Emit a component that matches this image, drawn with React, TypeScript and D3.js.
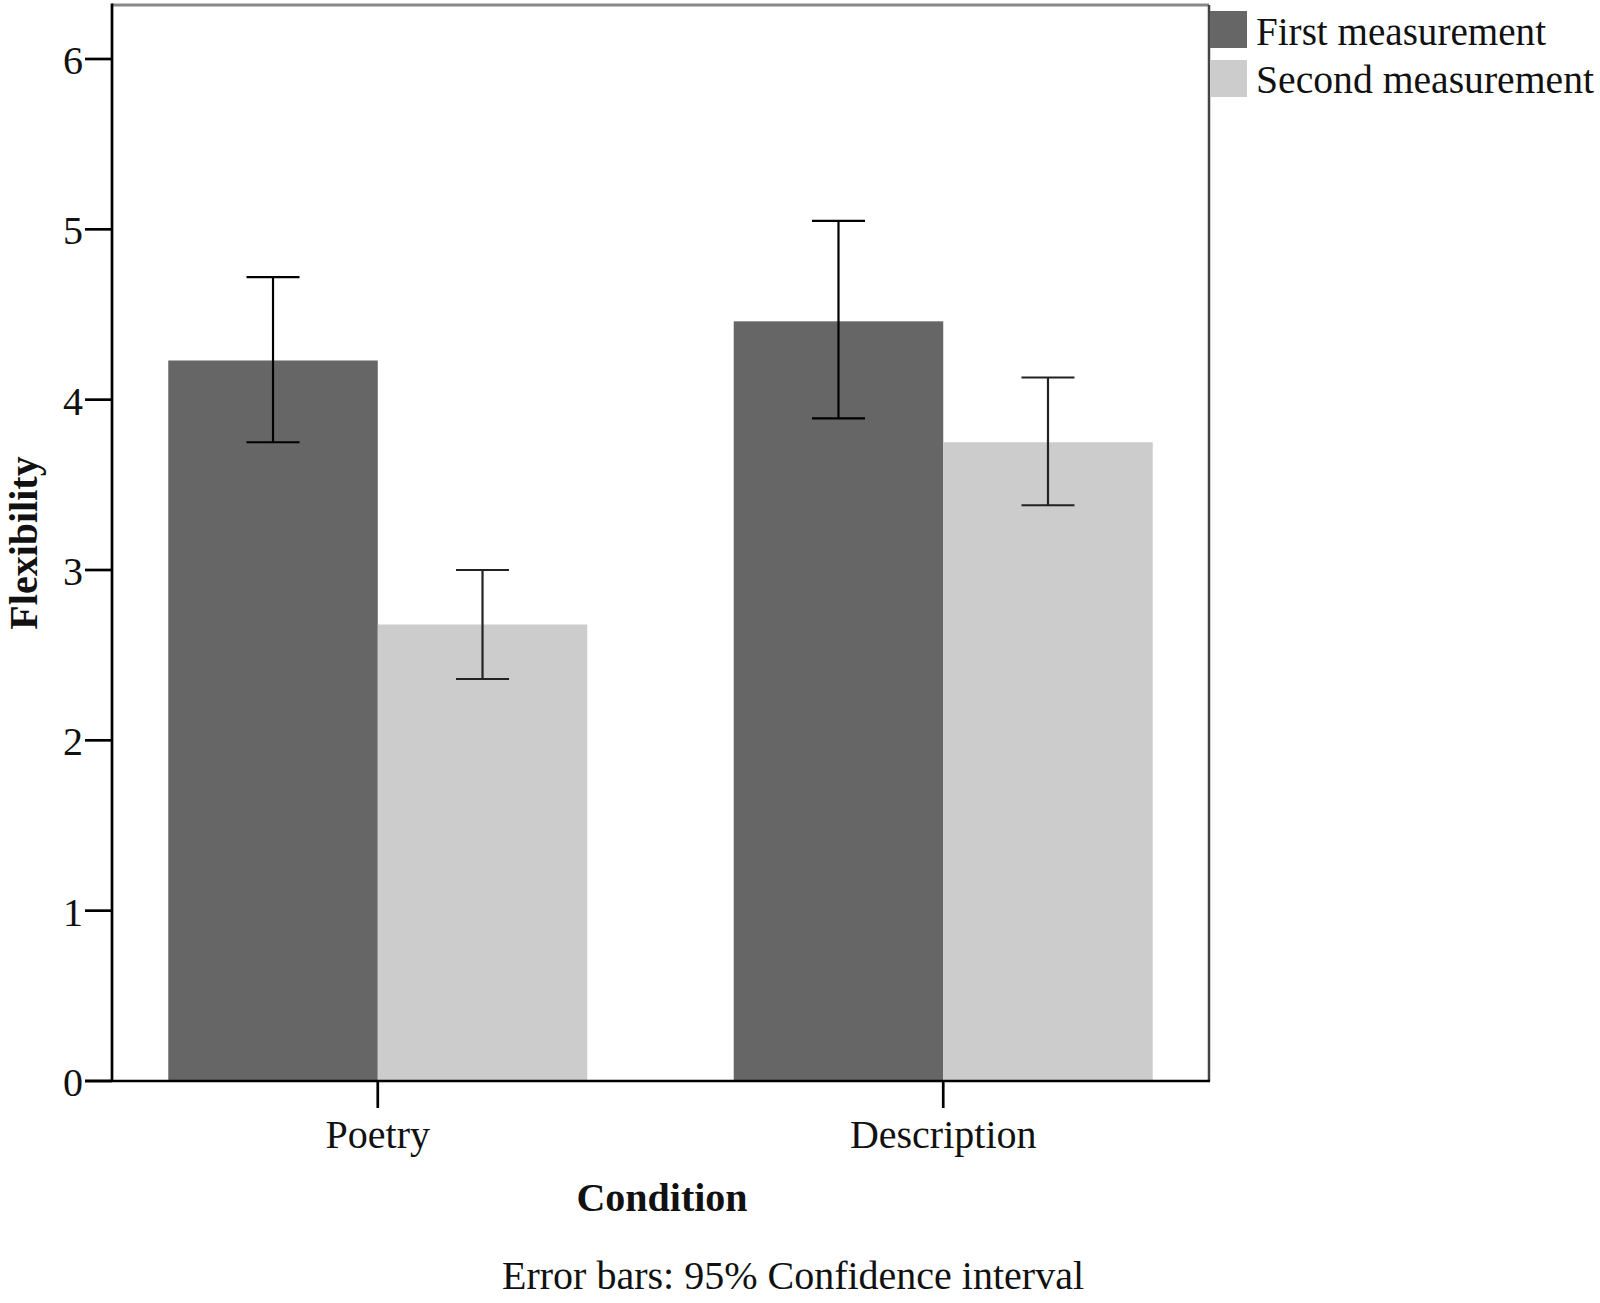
import React from "react";
import * as d3 from "d3";

const categories = ["Poetry", "Description"];
const seriesNames = ["First measurement", "Second measurement"];
const firstMeans = [4.23, 4.46];
const secondMeans = [2.68, 3.75];
const firstLower = [3.75, 3.89];
const firstUpper = [4.72, 5.05];
const secondLower = [2.36, 3.38];
const secondUpper = [3.0, 4.13];
const yTicks = [0, 1, 2, 3, 4, 5, 6];
const colors = ["#666666", "#cccccc"];

const W = 1600;
const H = 1303;
const left = 112;
const right = 1209;
const top = 5;
const bottom = 1081;
const FONT = "'Liberation Serif', 'Times New Roman', serif";

export default function App() {
  const y = d3.scaleLinear().domain([0, 6]).range([bottom, 59]);
  const x = d3.scalePoint<string>().domain(categories).range([left, right]).padding(0.47);
  const groupW = 419;
  const inner = d3.scaleBand<string>().domain(seriesNames).range([-groupW / 2, groupW / 2]).padding(0);

  const data = categories.flatMap((c, i) => [
    { cat: c, s: seriesNames[0], v: firstMeans[i], lo: firstLower[i], hi: firstUpper[i], col: colors[0] },
    { cat: c, s: seriesNames[1], v: secondMeans[i], lo: secondLower[i], hi: secondUpper[i], col: colors[1] },
  ]);
  const capW = 53;

  return (
    <svg width={W} height={H} style={{ position: "absolute", left: 0, top: 0, background: "#fff" }} fontFamily={FONT}>
      <rect x={0} y={0} width={W} height={H} fill="#fff" />
      {data.map((d, i) => {
        const x0 = (x(d.cat) as number) + (inner(d.s) as number);
        return (
          <rect key={"b" + i} x={x0} y={y(d.v)} width={inner.bandwidth()} height={bottom - y(d.v)} fill={d.col} />
        );
      })}
      {data.map((d, i) => {
        const cx = (x(d.cat) as number) + (inner(d.s) as number) + inner.bandwidth() / 2;
        const stroke = i % 2 === 0 ? "#000" : "#222";
        return (
          <g key={"e" + i} stroke={stroke} strokeWidth={2.2}>
            <line x1={cx} x2={cx} y1={y(d.lo)} y2={y(d.hi)} />
            <line x1={cx - capW / 2} x2={cx + capW / 2} y1={y(d.lo)} y2={y(d.lo)} />
            <line x1={cx - capW / 2} x2={cx + capW / 2} y1={y(d.hi)} y2={y(d.hi)} />
          </g>
        );
      })}
      <line x1={left} x2={right} y1={top} y2={top} stroke="#888" strokeWidth={3} />
      <line x1={right} x2={right} y1={top} y2={bottom} stroke="#444" strokeWidth={2.5} />
      <line x1={left} x2={left} y1={top - 1.5} y2={bottom} stroke="#000" strokeWidth={2.7} />
      <line x1={left - 27} x2={right + 1} y1={bottom} y2={bottom} stroke="#000" strokeWidth={2.7} />
      {yTicks.map((t) => (
        <g key={"yt" + t}>
          <line x1={left - 27} x2={left} y1={y(t)} y2={y(t)} stroke="#000" strokeWidth={2.7} />
          <text x={83} y={y(t) + 15} textAnchor="end" fontSize={40} fill="#111">
            {t}
          </text>
        </g>
      ))}
      {categories.map((c) => (
        <g key={"xt" + c}>
          <line x1={x(c)} x2={x(c)} y1={bottom} y2={bottom + 27} stroke="#000" strokeWidth={2.7} />
          <text x={x(c)} y={1148} textAnchor="middle" fontSize={40} fill="#111">
            {c}
          </text>
        </g>
      ))}
      <text x={662} y={1211} textAnchor="middle" fontSize={40} fontWeight="bold" fill="#111">
        Condition
      </text>
      <text transform={`translate(37, 543) rotate(-90)`} textAnchor="middle" fontSize={40} fontWeight="bold" fill="#111">
        Flexibility
      </text>
      <text x={793} y={1289} textAnchor="middle" fontSize={40} fill="#111">
        Error bars: 95% Confidence interval
      </text>
      {seriesNames.map((s, i) => (
        <g key={"lg" + s}>
          <rect x={1210} y={11 + i * 49} width={37} height={37} fill={colors[i]} />
          <text x={1256} y={45 + i * 48} fontSize={40} fill="#111" textLength={i === 0 ? 290 : 338} lengthAdjust="spacingAndGlyphs">
            {s}
          </text>
        </g>
      ))}
    </svg>
  );
}
